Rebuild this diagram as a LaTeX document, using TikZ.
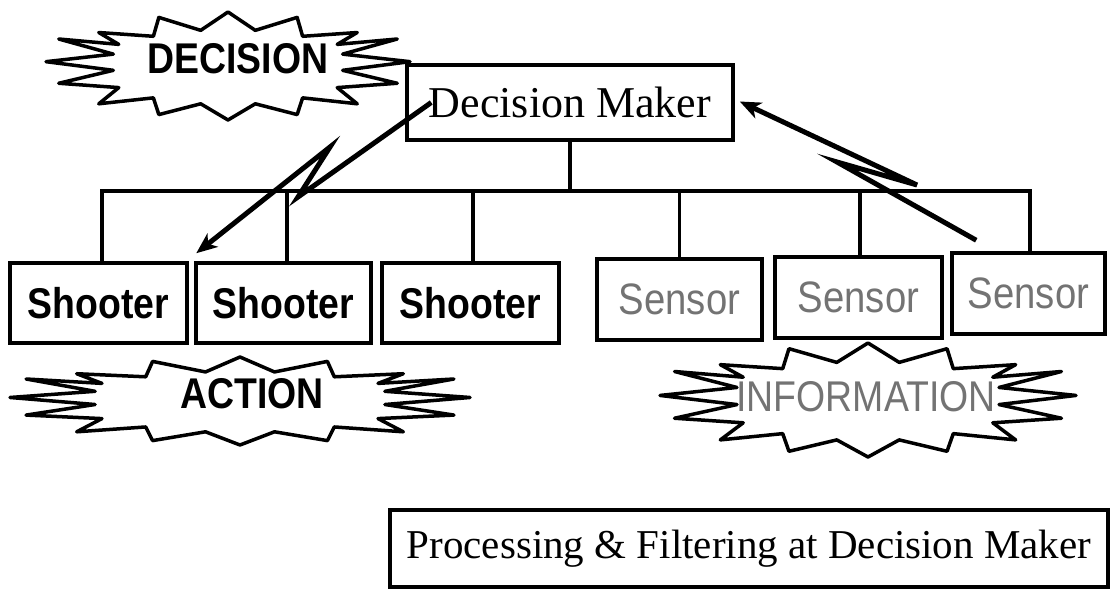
\documentclass[tikz,border=0pt]{standalone}
\usepackage{fontspec}
\setmainfont{Liberation Serif}
\newfontfamily\hsans[FakeStretch=0.87]{Liberation Sans}
\usetikzlibrary{arrows.meta,calc}
\newcommand\drawburst[4]{%
  \begin{scope}[shift={(#1,#2)},xscale=#3,yscale=#4]
    \draw[burstline] (-0.71,-0.62) -- (-0.41,-0.55) -- (-0.38,-0.90) -- (-0.15,-0.66) -- (0,-1)
      -- (0.15,-0.66) -- (0.38,-0.90) -- (0.41,-0.55) -- (0.71,-0.62)
      -- (0.60,-0.40) -- (0.93,-0.50) -- (0.63,-0.22) -- (1,-0.08) -- (0.63,0.08)
      -- (0.93,0.32) -- (0.60,0.40) -- (0.71,0.70)
      -- (0.41,0.59) -- (0.38,0.90) -- (0.15,0.70) -- (0,1) -- (-0.15,0.70)
      -- (-0.38,0.90) -- (-0.41,0.59) -- (-0.71,0.70)
      -- (-0.60,0.40) -- (-0.93,0.32) -- (-0.63,0.08) -- (-1,-0.08) -- (-0.63,-0.22)
      -- (-0.93,-0.50) -- (-0.60,-0.40) -- cycle;
  \end{scope}}
\begin{document}
\begin{tikzpicture}[x=1pt,y=-1pt,
  burstline/.style={line width=3.5pt,line join=round,fill=white},
  box/.style={draw,line width=3.5pt,inner sep=0pt,fill=white},
  shooterbox/.style={box,minimum height=80pt,font=\hsans\bfseries\fontsize{43}{48}\selectfont},
  sensorbox/.style={box,minimum height=81pt,text=black!55,font=\hsans\fontsize{44}{50}\selectfont},
  serifbox/.style={box},
  bus/.style={line width=3.5pt},
  bolt/.style={line width=5pt,line join=miter,-{Stealth[length=21pt,width=17pt,inset=6pt]}},
  bursttext/.style={inner sep=0pt,font=\hsans\bfseries\fontsize{43}{48}\selectfont},
]
\fill[white] (0,0) rectangle (1112,593);
\useasboundingbox (0,0) rectangle (1112,593);

% bursts
\drawburst{228}{66}{182}{54}
\drawburst{240}{401}{230}{44}
\drawburst{868}{400}{208}{57}
\node[bursttext] (tdec) at (238,59) {DECISION};
\node[bursttext] (tact) at (252,394) {ACTION};
\node[bursttext,font=\hsans\fontsize{43}{48}\selectfont,text=black!55] (tinf) at (866,397) {INFORMATION};

% decision maker
\node[serifbox,minimum width=326pt,minimum height=75pt,font=\fontsize{44}{50}\selectfont] (dm) at (570,102.5) {Decision Maker};

% shooters and sensors
\node[shooterbox,minimum width=177pt] (s1) at (98.5,303) {Shooter};
\node[shooterbox,minimum width=175pt] (s2) at (283.5,303) {Shooter};
\node[shooterbox,minimum width=177pt] (s3) at (470.5,303) {Shooter};
\node[sensorbox,minimum width=165pt] (n1) at (679.5,299.5) {Sensor};
\node[sensorbox,minimum width=167pt] (n2) at (858.5,297.5) {Sensor};
\node[sensorbox,minimum width=153pt,minimum height=81pt] (n3) at (1028.5,293.5) {Sensor};

% tree connectors
\coordinate (bus) at (570,191);
\coordinate (d1) at ($(s1.north)+(3.5,0)$);
\coordinate (d2) at ($(s2.north)+(3.5,0)$);
\coordinate (d3) at ($(s3.north)+(2.5,0)$);
\coordinate (d4) at (n1.north);
\coordinate (d5) at ($(n2.north)+(1.5,0)$);
\coordinate (d6) at ($(n3.north)+(1.5,0)$);
\draw[bus] (dm.south) -- (bus);
\draw[bus,line cap=rect] (d1 |- bus) -- (d6 |- bus);
\foreach \d in {d1,d2,d3,d4,d5,d6} {\draw[bus] (\d) -- (\d |- bus);}

% lightning arrows
\coordinate (la) at (298,197);
\coordinate (lb) at (330,147);
\draw[bolt] ($(dm.west)+(26,0)$) -- (la) -- (lb) -- ($(s2.north west)+(2,-8)$);
\coordinate (ra) at (837,162);
\coordinate (rb) at (917,185);
\draw[bolt] ($(n3.north west)+(26,-11)$) -- (ra) -- (rb) -- ($(dm.east)+(5,-1)$);

% bottom box
\node[serifbox,minimum width=718pt,minimum height=77pt,font=\fontsize{41}{48}\selectfont] (pf) at (749,548.5) {Processing \& Filtering at Decision Maker};
\end{tikzpicture}
\end{document}
